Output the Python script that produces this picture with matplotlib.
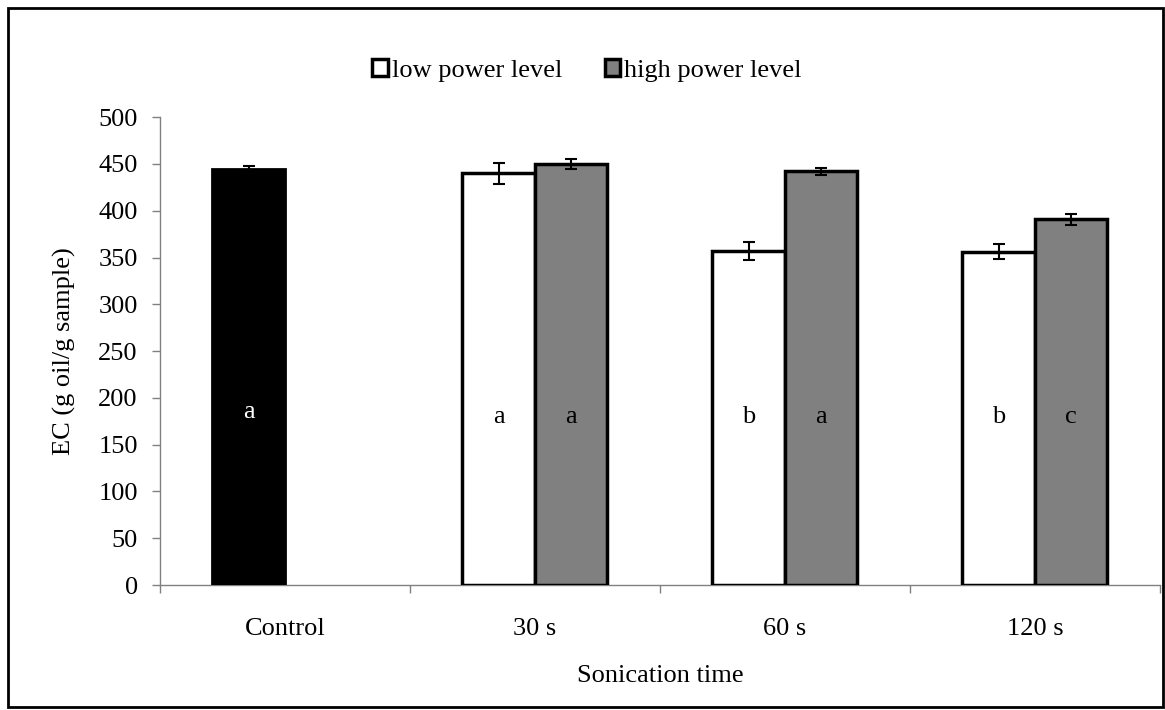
import matplotlib.pyplot as plt
from matplotlib.patches import Rectangle
import numpy as np

plt.rcParams['font.family'] = ['Liberation Serif', 'DejaVu Serif']

# data
categories = ['Control', '30 s', '60 s', '120 s']
control_value = 445
control_err = 3
control_letter = 'a'
low_power = [440, 357, 356]
low_err = [11, 10, 8]
low_letters = ['a', 'b', 'b']
high_power = [450, 442, 391]
high_err = [5, 3.5, 6]
high_letters = ['a', 'a', 'c']

fs = 19

fig = plt.figure(figsize=(11.65, 7.1), dpi=100)
ax = fig.add_axes([0.1373, 0.176, 0.8584, 0.659])

w = 0.29
x = np.arange(1, len(categories))
ekw = dict(ecolor='black', elinewidth=1.5, capsize=4.5, capthick=1.5)

ax.bar(-w / 2, control_value, w, color='black', edgecolor='black', linewidth=2,
       yerr=control_err, error_kw=ekw, zorder=3)
ax.bar(x - w / 2, low_power, w, color='white', edgecolor='black', linewidth=2.5,
       yerr=low_err, error_kw=ekw, label='low power level', zorder=3)
ax.bar(x + w / 2, high_power, w, color='#808080', edgecolor='black', linewidth=2.5,
       yerr=high_err, error_kw=ekw, label='high power level', zorder=3)

ax.text(-w / 2, 185, control_letter, color='white', ha='center', va='center', fontsize=fs)
for xi, t in zip(x, low_letters):
    ax.text(xi - w / 2, 180, t, ha='center', va='center', fontsize=fs)
for xi, t in zip(x, high_letters):
    ax.text(xi + w / 2, 180, t, ha='center', va='center', fontsize=fs)

ax.set_xlim(-0.5, 3.5)
ax.set_ylim(0, 500)
ax.set_yticks(np.arange(0, 501, 50))
ax.set_xticks(np.arange(-0.5, 3.6, 1))
ax.set_xticklabels([])
ax.set_xticks(np.arange(len(categories)), minor=True)
ax.set_xticklabels(categories, minor=True)
ax.tick_params(axis='x', which='minor', length=0, pad=24, labelsize=fs)
ax.tick_params(axis='x', which='major', length=6, width=1, color='#808080', direction='out')
ax.tick_params(axis='y', length=6, width=1, color='#808080', labelsize=fs, pad=10)

for s in ['top', 'right']:
    ax.spines[s].set_visible(False)
for s in ['left', 'bottom']:
    ax.spines[s].set_color('#808080')
    ax.spines[s].set_linewidth(1)

ax.set_ylabel('EC (g oil/g sample)', fontsize=fs, labelpad=16)
ax.set_xlabel('Sonication time', fontsize=fs, labelpad=18)

leg = ax.legend(loc='center', bbox_to_anchor=(0.427, 1.1), ncol=2, frameon=False,
                fontsize=fs, handlelength=0.6, handleheight=0.6, handletextpad=0.15,
                columnspacing=1.6)

fig.patches.append(Rectangle((0.007, 0.004), 0.991, 0.985, transform=fig.transFigure,
                             fill=False, edgecolor='black', linewidth=2))

fig.savefig('out.png', dpi=100)
